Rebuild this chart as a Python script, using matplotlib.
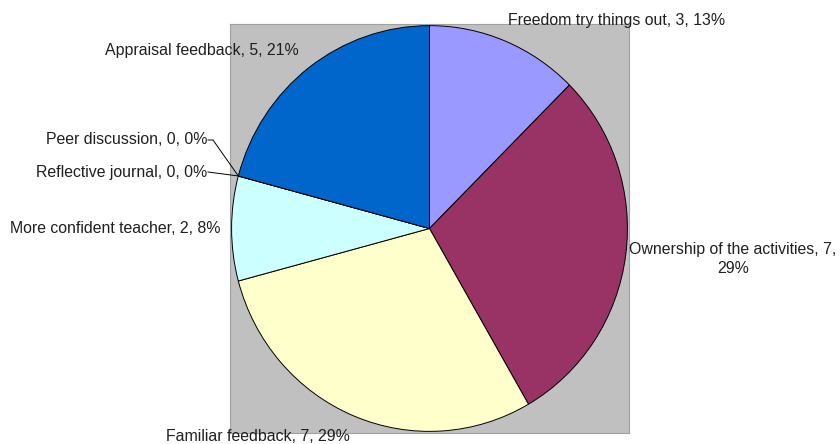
import numpy as np
import matplotlib.pyplot as plt

# Responses per category, clockwise from 12 o'clock
categories = ['Freedom try things out', 'Ownership of the activities', 'Familiar feedback',
              'More confident teacher', 'Reflective journal', 'Peer discussion', 'Appraisal feedback']
counts = [3, 7, 7, 2, 0, 0, 5]
colors = ['#9999FF', '#993366', '#FFFFCC', '#CCFFFF', '#660066', '#FF8080', '#0066CC']

plt.rcParams['font.family'] = ['Liberation Sans', 'DejaVu Sans']

W, H = 840, 444
fig = plt.figure(figsize=(W / 100, H / 100), dpi=100)
fig.patch.set_facecolor('white')

# Grey plot area holding the pie, in pixel terms
left, right, top, bottom = 230, 629, 24, 433
ax = fig.add_axes([left / W, 1 - bottom / H, (right - left) / W, (bottom - top) / H])
ax.set_facecolor('#C0C0C0')

wedges, _ = ax.pie(counts, colors=colors, startangle=90, counterclock=False, frame=True,
                   wedgeprops=dict(edgecolor='black', linewidth=0.7))
ax.set_aspect('auto')
ax.set_xlim(-1.008, 1.008)
ax.set_ylim(-1.008, 1.008)
ax.set_xticks([])
ax.set_yticks([])
for s in ax.spines.values():
    s.set_color('#A0A0A0')
    s.set_linewidth(0.8)

total = sum(counts)


def label(i):
    pct = int(round(100.0 * counts[i] / total + 1e-9))
    return '%s, %d, %d%%' % (categories[i], counts[i], pct)


def fx(px):
    return px / W


def fy(py):
    return 1 - py / H


fs = 11.4
tc = '#202020'
fig.text(fx(508), fy(20), label(0), fontsize=fs, color=tc, va='center', ha='left')
fig.text(fx(733), fy(259), 'Ownership of the activities, 7,\n29%', fontsize=fs, color=tc,
         va='center', ha='center', linespacing=1.35)
fig.text(fx(166), fy(436), label(2), fontsize=fs, color=tc, va='center', ha='left')
fig.text(fx(221), fy(228), label(3), fontsize=fs, color=tc, va='center', ha='right')
fig.text(fx(299), fy(50), label(6), fontsize=fs, color=tc, va='center', ha='right')

# Zero-valued slices get leader lines to their position on the rim
for i, ty, mid in [(5, 140, 213), (4, 172, None)]:
    w = wedges[i]
    ang = np.deg2rad(w.theta1)
    px = ax.transData.transform((np.cos(ang), np.sin(ang)))
    ex, ey = px[0], px[1]
    fig.text(fx(207), fy(ty), label(i), fontsize=fs, color=tc, va='center', ha='right')
    xs = [208]
    ys = [H - ty]
    if mid is not None:
        xs.append(mid)
        ys.append(H - ty)
    xs.append(ex)
    ys.append(ey)
    fig.add_artist(plt.Line2D(np.array(xs) / W, np.array(ys) / H, color='black', linewidth=0.7))

fig.savefig('out.png', dpi=100)
